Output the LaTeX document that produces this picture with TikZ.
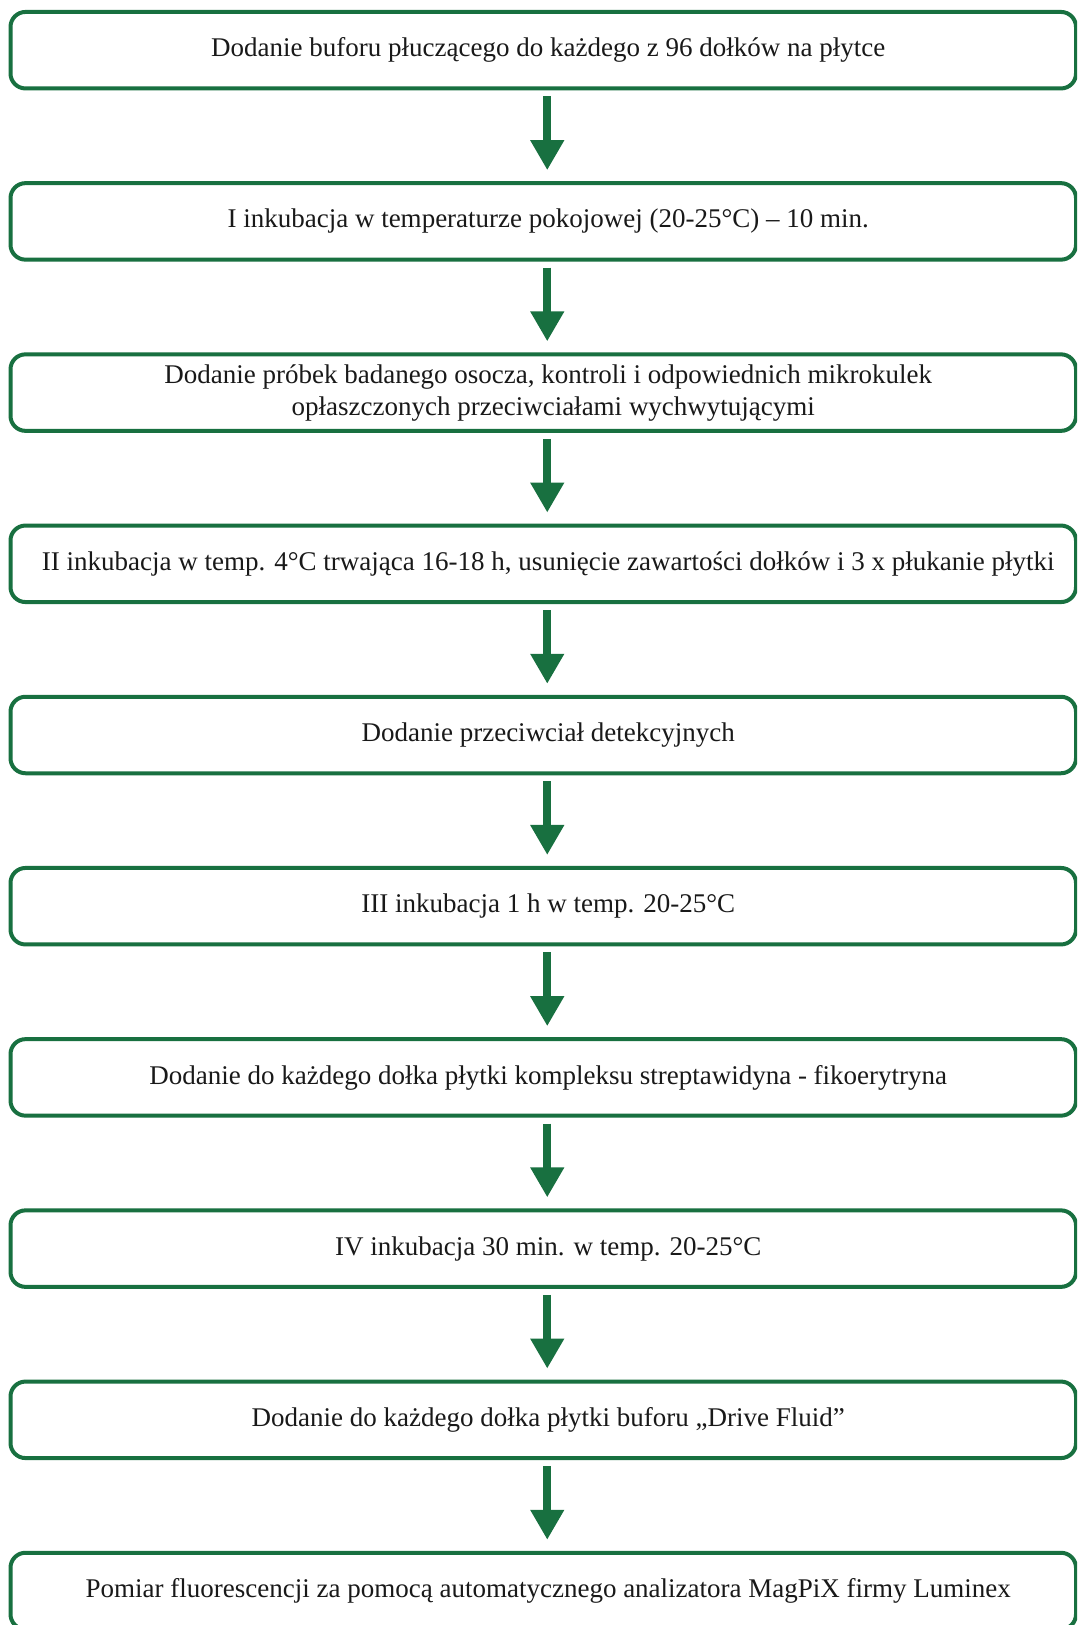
\documentclass[tikz,border=0pt]{standalone}
\usepackage{fontspec}
\setmainfont{Liberation Serif}
\usetikzlibrary{arrows.meta}
\definecolor{dgreen}{RGB}{24,112,64}
\newcommand{\shiftx}{\hspace*{10pt}}
\tikzset{
  stepbox/.style={draw=dgreen, line width=4pt, rounded corners=15pt,
    minimum width=1065.5pt, minimum height=76.5pt, inner sep=0pt,
    align=center, font=\fontsize{27}{32}\selectfont, text=black!90,
    execute at begin node=\shiftx},
  flowarrow/.style={draw=dgreen, line width=8pt,
    -{Triangle[width=32pt,length=30pt]}}
}
\begin{document}
\begin{tikzpicture}[x=1pt,y=-1pt]
\useasboundingbox (0,0) rectangle (1077,1625);
\clip (0,0) rectangle (1077,1625);
\fill[white] (0,0) rectangle (1077,1625);
\def\bx{543.25}
\node[stepbox] (b1) at (\bx,50.2) {Dodanie buforu płuczącego do każdego z 96 dołków na płytce};
\node[stepbox] (b2) at (\bx,221.4) {I inkubacja w temperaturze pokojowej (20-25°C) – 10 min.};
\node[stepbox] (b3) at (\bx,392.6) {Dodanie próbek badanego osocza, kontroli i odpowiednich mikrokulek\\\shiftx opłaszczonych przeciwciałami wychwytującymi};
\node[stepbox] (b4) at (\bx,563.8) {II inkubacja w temp. 4°C trwająca 16-18 h, usunięcie zawartości dołków i 3 x płukanie płytki};
\node[stepbox] (b5) at (\bx,735.0) {Dodanie przeciwciał detekcyjnych};
\node[stepbox] (b6) at (\bx,906.2) {III inkubacja 1 h w temp. 20-25°C};
\node[stepbox] (b7) at (\bx,1077.4) {Dodanie do każdego dołka płytki kompleksu streptawidyna - fikoerytryna};
\node[stepbox] (b8) at (\bx,1248.6) {IV inkubacja 30 min. w temp. 20-25°C};
\node[stepbox] (b9) at (\bx,1419.8) {Dodanie do każdego dołka płytki buforu „Drive Fluid”};
\node[stepbox] (b10) at (\bx,1591.0) {Pomiar fluorescencji za pomocą automatycznego analizatora MagPiX firmy Luminex};
\foreach \a/\b in {b1/b2,b2/b3,b3/b4,b4/b5,b5/b6,b6/b7,b7/b8,b8/b9,b9/b10}{
  \draw[flowarrow] ([xshift=4pt,yshift=-6pt]\a.south) -- ([xshift=4pt,yshift=11pt]\b.north);
}
\end{tikzpicture}
\end{document}
